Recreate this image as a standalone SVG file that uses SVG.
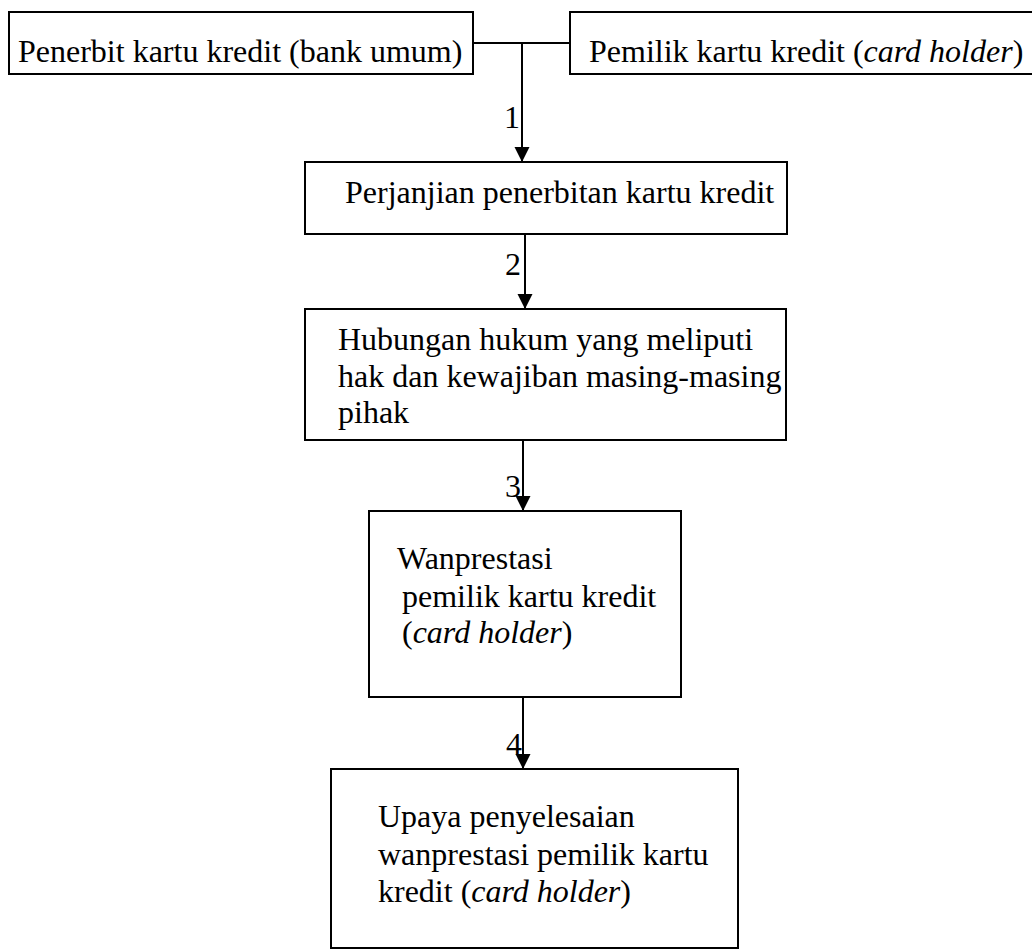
<svg xmlns="http://www.w3.org/2000/svg" width="1032" height="950" viewBox="0 0 1032 950">
<style>
.box{fill:#fff;stroke:#000;stroke-width:2}
.t{font-family:"Liberation Serif","Times New Roman",serif;font-size:32px;fill:#000}
.i{font-style:italic}
.c{stroke:#000;stroke-width:2;fill:none}
</style>
<defs>
<marker id="arr" markerUnits="userSpaceOnUse" markerWidth="16" markerHeight="16" refX="15" refY="7.5" orient="auto">
<path d="M0,0 L15,7.5 L0,15 z" fill="#000"/>
</marker>
</defs>
<rect width="1032" height="950" fill="#fff"/>
<g id="n1"><rect class="box" x="9" y="12" width="464" height="62"/><text class="t" x="18" y="62">Penerbit kartu kredit (bank umum)</text></g>
<g id="n2"><rect class="box" x="570" y="12" width="470" height="62"/><text class="t" x="589" y="62">Pemilik kartu kredit (<tspan class="i">card holder</tspan>)</text></g>
<g id="n3"><rect class="box" x="305" y="162" width="482" height="72"/><text class="t" x="345" y="203">Perjanjian penerbitan kartu kredit</text></g>
<g id="n4"><rect class="box" x="305" y="309" width="481" height="131"/><text class="t"><tspan x="338" y="350">Hubungan hukum yang meliputi</tspan><tspan x="338" y="387">hak dan kewajiban masing-masing</tspan><tspan x="338" y="423">pihak</tspan></text></g>
<g id="n5"><rect class="box" x="369" y="511" width="312" height="186"/><text class="t"><tspan x="397" y="569">Wanprestasi</tspan><tspan x="402" y="607">pemilik kartu kredit</tspan><tspan x="402" y="643">(<tspan class="i">card holder</tspan>)</tspan></text></g>
<g id="n6"><rect class="box" x="331" y="769" width="407" height="179"/><text class="t"><tspan x="378" y="827">Upaya penyelesaian</tspan><tspan x="378" y="865">wanprestasi pemilik kartu</tspan><tspan x="378" y="902">kredit (<tspan class="i">card holder</tspan>)</tspan></text></g>
<g id="connectors">
<line class="c" x1="473" y1="43" x2="570" y2="43"/>
<line class="c" x1="522" y1="43" x2="522" y2="162" marker-end="url(#arr)"/>
<line class="c" x1="525" y1="234" x2="525" y2="309" marker-end="url(#arr)"/>
<line class="c" x1="523" y1="440" x2="523" y2="511" marker-end="url(#arr)"/>
<line class="c" x1="523" y1="697" x2="523" y2="769" marker-end="url(#arr)"/>
<text class="t" x="520" y="128" text-anchor="end">1</text>
<text class="t" x="521" y="275" text-anchor="end">2</text>
<text class="t" x="521" y="497" text-anchor="end">3</text>
<text class="t" x="522" y="755" text-anchor="end">4</text>
</g>
</svg>
